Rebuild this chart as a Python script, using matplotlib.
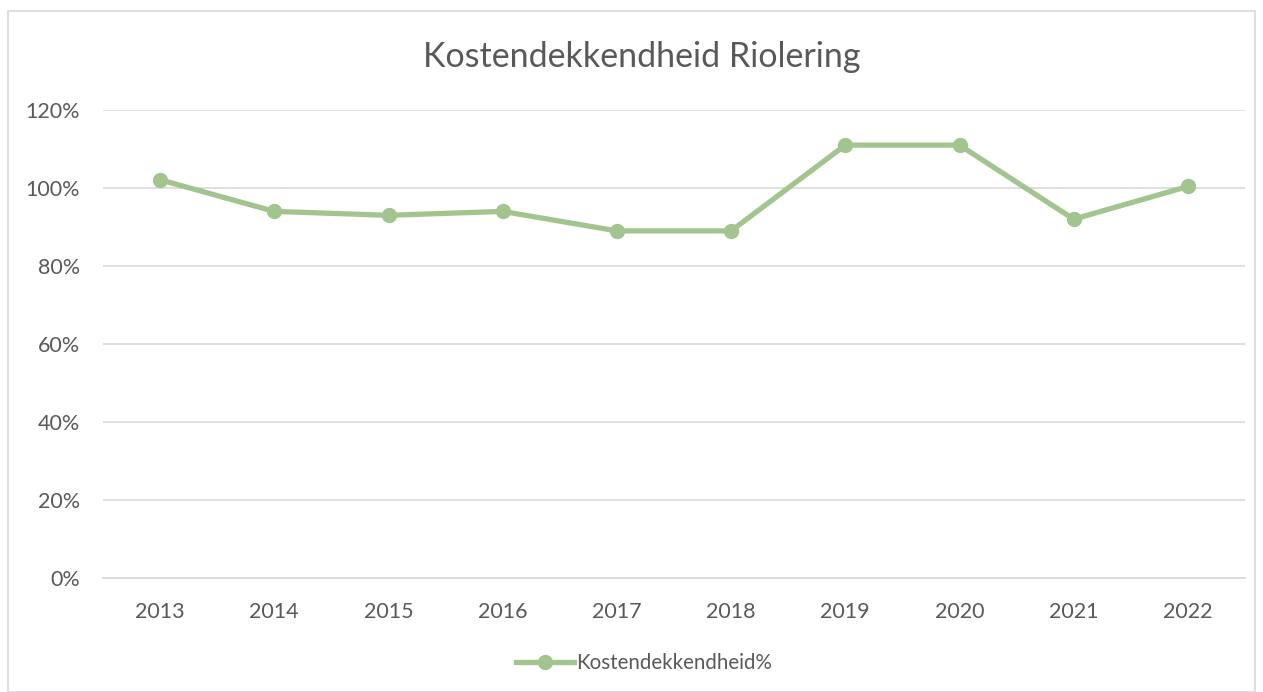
import matplotlib.pyplot as plt
from matplotlib.ticker import PercentFormatter

# Data
jaren = ["2013", "2014", "2015", "2016", "2017", "2018", "2019", "2020", "2021", "2022"]
kostendekkendheid = [102.1, 94, 93, 94, 89, 89, 111, 111, 92, 100.4]

groen = "#A2C590"
tekst = "#595959"
plt.rcParams['font.family'] = ['Lato', 'DejaVu Sans']

fig = plt.figure(figsize=(12.63, 6.92), dpi=100)
ax = fig.add_axes([103 / 1263, 1 - 578 / 692, 1142 / 1263, 468 / 692])

x = range(len(jaren))
ax.plot(x, [v / 100 for v in kostendekkendheid], color=groen, linewidth=3.8,
        marker="o", markersize=10, label="Kostendekkendheid%", zorder=3)

ax.set_xlim(-0.5, len(jaren) - 0.5)
ax.set_ylim(0, 1.2)
ax.set_yticks([0, 0.2, 0.4, 0.6, 0.8, 1.0, 1.2])
ax.yaxis.set_major_formatter(PercentFormatter(1.0, decimals=0))
ax.set_xticks(list(x))
ax.set_xticklabels(jaren)
ax.grid(axis="y", color="#D9D9D9", linewidth=1.2)
ax.set_axisbelow(True)
for s in ["top", "right", "left"]:
    ax.spines[s].set_visible(False)
ax.spines["bottom"].set_color("#D9D9D9")
ax.spines["bottom"].set_linewidth(1.2)
ax.tick_params(length=0, labelsize=15.5, colors=tekst)
ax.tick_params(axis="x", pad=17)
ax.tick_params(axis="y", pad=16.5)

fig.text(642 / 1263, 1 - 57 / 692, "Kostendekkendheid Riolering", ha="center", va="center",
         fontsize=24.5, color=tekst)

leg = fig.legend(loc="center", bbox_to_anchor=(644 / 1263, 1 - 663 / 692), frameon=False,
                 fontsize=14.8, handlelength=2.8, handletextpad=0.1, labelcolor=tekst)

# chart border
fig.add_artist(plt.Rectangle((8 / 1263, 0), 1247 / 1263, 1 - 11 / 692, transform=fig.transFigure,
                             fill=False, edgecolor="#D9D9D9", linewidth=1.2))

fig.savefig("out.png", dpi=100)
